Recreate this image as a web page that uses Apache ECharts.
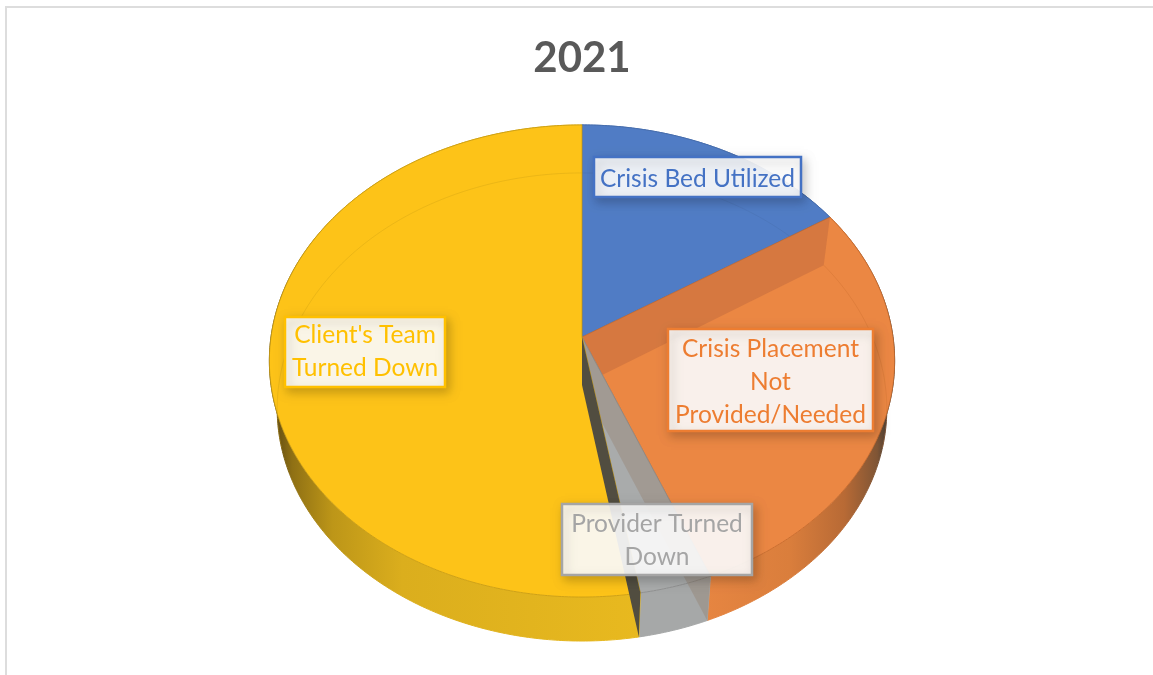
<!DOCTYPE html>
<html>
<head>
<meta charset="utf-8">
<style>html,body{margin:0;padding:0;background:#fff}#c{width:1153px;height:675px}</style>
<script src="https://cdn.jsdelivr.net/npm/echarts@6/dist/echarts.min.js"></script>
</head>
<body>
<div id="c"></div>
<script>
const chartTitle = '2021';
const categories = ['Crisis Bed Utilized', 'Crisis Placement Not Provided/Needed', 'Provider Turned Down', "Client's Team Turned Down"];
const values = [15.9, 28.0, 3.4, 52.7];
const labelLines = ['Crisis Bed Utilized', 'Crisis Placement\nNot\nProvided/Needed', 'Provider Turned\nDown', "Client's Team\nTurned Down"];
const topColors = ['#507CC5', '#EB8743', '#A9ABAB', '#FDC318'];
const edgeColors = ['#456BA8', '#C66A2C', '#8B8B8B', '#C79A14'];
const textColors = ['#4472C4', '#ED7D31', '#A5A5A5', '#FFC000'];

// label boxes [left, top, right, bottom] and text nudge
const labelBoxes = [[594, 157, 801, 197], [668, 329, 873, 431], [562, 504, 752, 575], [285, 317, 445, 387]];
const labelTextDy = [2, 2, 1, 0];

// perspective view of the disc
const VIEW = { cx: 582, cy: 337, a: 311, b: 233.6, k: 0.1016, shrink: 0.975 };
const total = values.reduce((s, v) => s + v, 0);
const toAngle = f => f / total * Math.PI * 2;
function startOf(i) { let s = 0; for (let j = 0; j < i; j++) s += values[j]; return toAngle(s); }
function endOf(i) { return startOf(i) + toAngle(values[i]); }
function proj(t, r, low) {
  const u = r * Math.sin(t), v = r * Math.cos(t), w = 1 + VIEW.k * v;
  let X = VIEW.cx + VIEW.a * u / w, Y = VIEW.cy - VIEW.b * v / w;
  if (low) { X = VIEW.cx + (X - VIEW.cx) * VIEW.shrink; Y += v >= 0 ? 48 : 48 + 4 * v; }
  return [X, Y];
}
function arc(t0, t1, low) {
  const n = Math.max(2, Math.ceil(Math.abs(t1 - t0) / 0.01)), pts = [];
  for (let i = 0; i <= n; i++) pts.push(proj(t0 + (t1 - t0) * i / n, 1, low));
  return pts;
}
function radialWall(t) { return [proj(t, 0, false), proj(t, 1, false), proj(t, 1, true), proj(t, 0, true)]; }

const G = (x0, x1, stops) => new echarts.graphic.LinearGradient(x0, 0, x1, 0, stops, true);
const wallFills = () => [
  '#4A72B5',
  G(707, 890, [{offset:0,color:'#E68541'},{offset:0.45,color:'#DA7E3C'},{offset:0.75,color:'#B86A35'},{offset:0.93,color:'#7F5535'},{offset:1,color:'#3E3A35'}]),
  '#A6A8A8',
  G(274, 640, [{offset:0,color:'#5F4A12'},{offset:0.05,color:'#8F7014'},{offset:0.16,color:'#BD9618'},{offset:0.35,color:'#DBAE1D'},{offset:1,color:'#E8B91F'}])
];

function renderWall(params, api) {
  const i = params.dataIndex, s = startOf(i), e = endOf(i), f = wallFills()[i];
  return { type: 'polygon', shape: { points: arc(s, e, false).concat(arc(s, e, true).reverse()) },
           style: { fill: f, stroke: f, lineWidth: 1 } };
}

function renderTop(params, api) {
  const i = params.dataIndex, s = startOf(i), e = endOf(i), children = [];
  children.push({ type: 'polygon', shape: { points: [proj(0, 0, false)].concat(arc(s, e, false)) },
    style: { fill: topColors[i], stroke: edgeColors[i], lineWidth: 0.8 } });
  // far rim of the lower disc showing through the top
  const rim = [];
  for (let t = s; t <= e; t += 0.01) {
    if (Math.cos(t) > -0.27) rim.push(proj(t, 1, true));
  }
  if (rim.length > 1) {
    children.push({ type: 'polyline', shape: { points: rim }, style: { stroke: edgeColors[i], opacity: 0.4, lineWidth: 0.8, fill: null } });
  }
  if (i === 1) {
    children.push({ type: 'polygon', shape: { points: radialWall(s) }, style: { fill: 'rgba(190,105,60,0.48)', stroke: null } });
  }
  if (i === 2) {
    children.push({ type: 'polygon', shape: { points: radialWall(s) }, style: { fill: 'rgba(140,110,85,0.28)', stroke: null } });
  }
  if (i === 3) {
    children.push({ type: 'polygon', shape: { points: radialWall(s) }, style: { fill: '#514D40', stroke: null } });
  }
  return { type: 'group', children };
}

function renderLabel(params, api) {
  const i = params.dataIndex, b = labelBoxes[i];
  return { type: 'group', children: [
    { type: 'rect', shape: { x: b[0], y: b[1], width: b[2] - b[0], height: b[3] - b[1] },
      style: { fill: 'rgba(255,255,255,0.9)', stroke: textColors[i], lineWidth: 2.5,
               shadowBlur: 10, shadowOffsetX: 3, shadowOffsetY: 4, shadowColor: 'rgba(0,0,0,0.22)' } },
    { type: 'text', x: (b[0] + b[2]) / 2, y: (b[1] + b[3]) / 2 + labelTextDy[i],
      style: { text: labelLines[i], fill: textColors[i], font: '24.5px Lato', lineHeight: 33,
               align: 'center', verticalAlign: 'middle' } }
  ] };
}

const seriesData = values.map((v, i) => ({ name: categories[i], value: v }));
const chart = echarts.init(document.getElementById('c'), null, { renderer: 'canvas' });
chart.setOption({
  animation: false,
  backgroundColor: '#fff',
  tooltip: { show: false },
  title: { text: chartTitle, left: 577, top: 32, textAlign: 'center', textVerticalAlign: 'top',
           textStyle: { fontFamily: 'Lato', fontWeight: 'bold', fontSize: 42, color: '#595959' } },
  graphic: [{ type: 'rect', silent: true, z: -1, shape: { x: 6, y: 7, width: 1400, height: 1000 },
              style: { fill: '#fff', stroke: '#DDDDDD', lineWidth: 2 } }],
  series: [
    { type: 'custom', coordinateSystem: 'none', z: 2, silent: true, data: seriesData, renderItem: renderWall },
    { type: 'custom', coordinateSystem: 'none', z: 3, silent: true, data: seriesData, renderItem: renderTop },
    { type: 'custom', coordinateSystem: 'none', z: 4, silent: true, data: seriesData, renderItem: renderLabel }
  ]
});
</script>
</body>
</html>
